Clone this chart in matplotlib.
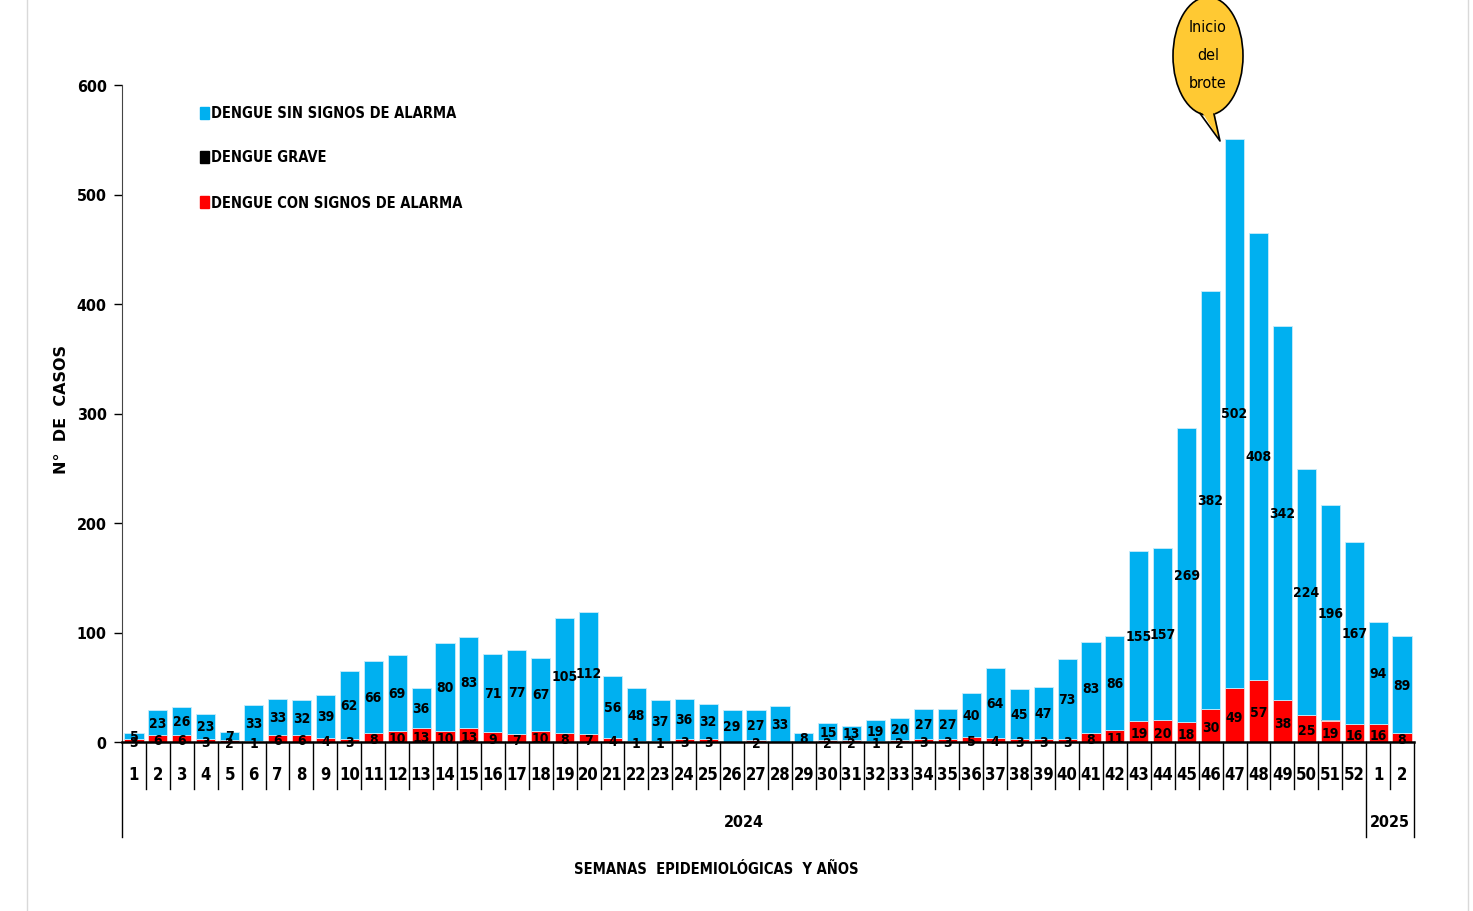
import matplotlib
matplotlib.use("Agg")
import matplotlib.pyplot as plt
from matplotlib import font_manager
from matplotlib.patches import Ellipse, Polygon, Rectangle
from matplotlib.lines import Line2D
import numpy as np

# Semanas epidemiologicas: 52 de 2024 + 2 de 2025
weeks_2024 = list(range(1, 53))
weeks_2025 = [1, 2]
week_labels = [str(w) for w in weeks_2024 + weeks_2025]

sin_signos = [5, 23, 26, 23, 7, 33, 33, 32, 39, 62, 66, 69, 36, 80, 83, 71, 77, 67,
              105, 112, 56, 48, 37, 36, 32, 29, 27, 33, 8, 15, 13, 19, 20, 27, 27,
              40, 64, 45, 47, 73, 83, 86, 155, 157, 269, 382, 502, 408, 342, 224,
              196, 167, 94, 89]
con_signos = [3, 6, 6, 3, 2, 1, 6, 6, 4, 3, 8, 10, 13, 10, 13, 9, 7, 10, 8, 7, 4,
              1, 1, 3, 3, 0, 2, 0, 0, 2, 2, 1, 2, 3, 3, 5, 4, 3, 3, 3, 8, 11, 19,
              20, 18, 30, 49, 57, 38, 25, 19, 16, 16, 8]
grave = [0] * 50 + [1, 0, 0, 0]

series_names = ["DENGUE SIN SIGNOS DE ALARMA", "DENGUE GRAVE",
                "DENGUE CON SIGNOS DE ALARMA"]

BLUE = "#00B0F0"
RED = "#FF0000"

# fuente estrecha si existe (la original es tipo Calibri comprimida)
files = [f.fname.lower() for f in font_manager.fontManager.ttflist]
if any("liberationsansnarrow" in f for f in files):
    FONT = dict(family="Liberation Sans Narrow")
    SCALE = 1.1
elif any("dejavusanscondensed" in f for f in files):
    FONT = dict(family="DejaVu Sans", stretch="condensed")
    SCALE = 1.0
else:
    FONT = dict(family="Roboto")
    SCALE = 0.95

W, H = 1473, 912
fig = plt.figure(figsize=(W / 100, H / 100), dpi=100)


def px(x, y):
    return (x / W, 1 - y / H)


def fs(v):
    return v * SCALE


# ejes: y=0 en 743px, y=600 en 86px, x de 122 a 1414px
ax = fig.add_axes([122 / W, (H - 743) / H, (1414 - 122) / W, (743 - 86) / H])

x = np.arange(len(week_labels))
red = np.array(con_signos)
blk = np.array(grave)
blue = np.array(sin_signos)

ax.bar(x, red, width=0.8, color=RED, edgecolor="#ffd0d0", linewidth=0.6, zorder=2)
ax.bar(x, blk, width=0.8, bottom=red, color="black", zorder=2)
ax.bar(x, blue, width=0.8, bottom=red + blk, color=BLUE, edgecolor="#c8ecfa",
       linewidth=0.6, zorder=2)

# etiquetas de datos
for i in range(len(x)):
    ax.text(x[i], red[i] + blk[i] + blue[i] / 2, str(blue[i]), ha="center",
            va="center", fontsize=fs(10), fontweight="bold", zorder=4, **FONT)
    if red[i] > 0:
        ax.text(x[i], red[i] / 2 - 1.5, str(red[i]), ha="center", va="center",
                fontsize=fs(10), fontweight="bold", zorder=4, **FONT)

ax.set_xlim(-0.5, len(x) - 0.5)
ax.set_ylim(0, 600)
ax.set_yticks(range(0, 601, 100))
ax.set_yticklabels([str(v) for v in range(0, 601, 100)])
for t in ax.get_yticklabels():
    t.set_fontproperties(font_manager.FontProperties(weight="bold", size=fs(11.5),
                                                     **FONT))
ax.tick_params(axis="y", direction="out", length=6, width=1, pad=5)
ax.set_xticks([])
for s in ["top", "right"]:
    ax.spines[s].set_visible(False)
ax.spines["left"].set_color("#444444")
ax.spines["bottom"].set_linewidth(1.8)
ax.spines["bottom"].set_zorder(5)

# eje de categorias de dos niveles
trans = ax.get_xaxis_transform()
ah = 743 - 86
for i, lab in enumerate(week_labels):
    ax.text(x[i], -32 / ah, lab, transform=trans, ha="center", va="center",
            fontsize=fs(12), fontweight="bold", **FONT)
for b in np.arange(-0.5, len(x), 1.0):
    long = b in (-0.5, 51.5, len(x) - 0.5)
    ax.plot([b, b], [0, -(95 if long else 47) / ah], transform=trans,
            color="black", lw=1, clip_on=False)
ax.text(25.5, -80 / ah, "2024", transform=trans, ha="center", va="center",
        fontsize=fs(11.5), fontweight="bold", **FONT)
ax.text(52.5, -80 / ah, "2025", transform=trans, ha="center", va="center",
        fontsize=fs(11.5), fontweight="bold", **FONT)

fig.text(*px(716, 870), "SEMANAS  EPIDEMIOLÓGICAS  Y AÑOS", ha="center",
         va="center", fontsize=fs(10.5), fontweight="bold", **FONT)
fig.text(*px(62, 410), "N°  DE  CASOS", ha="center", va="center", rotation=90,
         fontsize=11.5, fontweight="bold")

# leyenda
for name, col, yy in zip(series_names, [BLUE, "black", RED], [114, 158, 203]):
    fig.add_artist(Rectangle(px(200, yy + 6), 9 / W, 12 / H,
                             transform=fig.transFigure, color=col))
    fig.text(*px(211, yy), name, ha="left", va="center", fontsize=fs(10.5),
             fontweight="bold", **FONT)

# globo "Inicio del brote"
cx, cy, a, b = 1208, 57, 35, 59
ell = Ellipse(px(cx, cy), 2 * a / W, 2 * b / H, transform=fig.transFigure,
              facecolor="#FFC933", edgecolor="black", lw=1.2, zorder=10)
fig.add_artist(ell)
tail = Polygon([px(1200, 110), px(1220, 142), px(1214, 110)],
               transform=fig.transFigure, facecolor="#FFC933",
               edgecolor="none", zorder=11)
fig.add_artist(tail)
tx = [1200, 1220, 1214]
ty = [114.4, 142, 115.1]
fig.add_artist(Line2D([v / W for v in tx], [1 - v / H for v in ty],
                      transform=fig.transFigure, color="black", lw=1.2, zorder=12))
for lab, yy in zip(["Inicio", "del", "brote"], [28, 56, 84]):
    fig.text(*px(cx, yy), lab, ha="center", va="center", fontsize=fs(11.5),
             zorder=13, **FONT)

# bordes grises del area del grafico
fig.add_artist(Line2D([27 / W, 27 / W], [0, 1], color="#d9d9d9", lw=1))
fig.add_artist(Line2D([1468 / W, 1468 / W], [0, 1], color="#d9d9d9", lw=1))

fig.savefig("out.png", dpi=100)
